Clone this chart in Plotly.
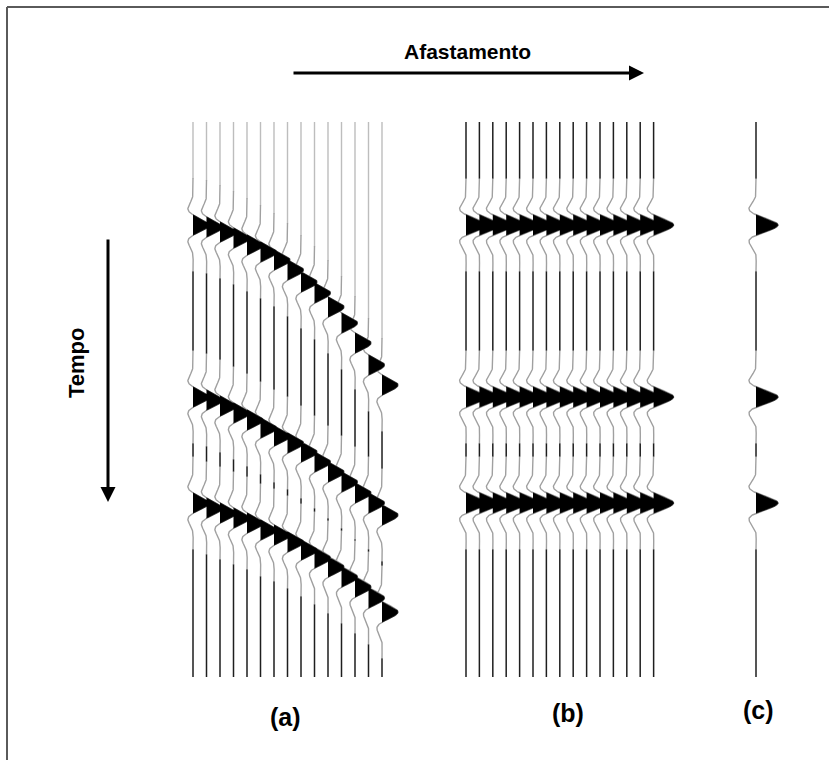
import numpy as np
import plotly.graph_objects as go

# Reflection arrival times (ms) on the 15 traces of the CMP gather (a)
t_refl1 = [206, 210, 220, 232, 246, 260, 276, 296, 320, 342, 370, 402, 442, 486, 526]
t_refl2 = [550, 556, 568, 582, 596, 612, 628, 642, 660, 680, 700, 720, 742, 762, 786]
t_refl3 = [762, 772, 782, 792, 802, 816, 826, 840, 856, 872, 890, 910, 930, 952, 980]
# Zero-offset times after NMO correction (b) and on the stacked trace (c)
t_zero = [206, 550, 762]
panel_labels = ["(a)", "(b)", "(c)"]
axis_labels = ["Afastamento", "Tempo"]

# ---- layout geometry (pixels) ----
W, H = 829, 760
Y_TOP = 122            # pixel row of t = 0
PX_PER_MS = 0.5
T_END = 1110           # record length (ms)
N_TR = 15
X_A0, DX_A = 193.0, 13.5
X_B0, DX_B = 466.0, 13.4
X_C = 756.0
AMP = {"a": 16.0, "b": 20.0, "c": 22.0}

PERIOD = 82.0          # wavelet dominant period (ms)
SIGMA = 34.0           # wavelet envelope width (ms)
HALF_SPAN = 94.0       # visible wavelet half length (ms)

DARK = "#1e1e1e"
GREY = "#a0a0a0"
GREY_LIGHT = "#bdbdbd"

t = np.arange(0.0, T_END + 0.5, 1.0)


def ypix(tms):
    return Y_TOP + np.asarray(tms, dtype=float) * PX_PER_MS


def wavelet(s):
    return np.cos(2 * np.pi * s / PERIOD) * np.exp(-(s / SIGMA) ** 2)


dark_x, dark_y = [], []
grey_x, grey_y = [], []
light_x, light_y = [], []
fill_x, fill_y = [], []


def add_runs(xs, ys, mask, ox, oy):
    """Append the runs of (xs, ys) where mask is True, separated by None."""
    idx = np.flatnonzero(mask)
    if idx.size == 0:
        return
    breaks = np.flatnonzero(np.diff(idx) > 1)
    starts = np.r_[idx[0], idx[breaks + 1]]
    ends = np.r_[idx[breaks], idx[-1]]
    for s0, e0 in zip(starts, ends):
        lo = max(s0 - 1, 0)
        hi = min(e0 + 2, len(xs))
        ox.extend(xs[lo:hi].tolist() + [None])
        oy.extend(ys[lo:hi].tolist() + [None])


def draw_trace(x0, times, amp, light_above_first=False):
    sig = np.zeros_like(t)
    near = np.zeros(t.shape, dtype=bool)
    for tt in times:
        sig += wavelet(t - tt)
        near |= np.abs(t - tt) < HALF_SPAN
    above = np.zeros(t.shape, dtype=bool)
    if light_above_first:
        above = (t < min(times)) & ~near
    xs = x0 + amp * sig
    ys = ypix(t)
    add_runs(xs, ys, ~near & ~above, dark_x, dark_y)
    add_runs(xs, ys, above, light_x, light_y)
    add_runs(xs, ys, near, grey_x, grey_y)
    # filled positive lobe of each reflection
    for tt in times:
        s = np.linspace(-PERIOD / 4, PERIOD / 4, 41)
        tl = tt + s
        xl = x0 + amp * np.interp(tl, t, sig)
        xl = np.maximum(xl, x0)
        px = [x0] + xl.tolist() + [x0, None]
        py = [float(ypix(tl[0]))] + ypix(tl).tolist() + [float(ypix(tl[-1])), None]
        fill_x.extend(px)
        fill_y.extend(py)


# (a) CMP gather with hyperbolic moveout
for i in range(N_TR):
    draw_trace(X_A0 + i * DX_A, [t_refl1[i], t_refl2[i], t_refl3[i]], AMP["a"],
               light_above_first=True)
# (b) NMO-corrected gather
for i in range(N_TR):
    draw_trace(X_B0 + i * DX_B, t_zero, AMP["b"])
# (c) stacked trace
draw_trace(X_C, t_zero, AMP["c"])

fig = go.Figure()
fig.add_trace(go.Scatter(x=light_x, y=light_y, mode="lines",
                         line=dict(color=GREY_LIGHT, width=1.4), hoverinfo="skip"))
fig.add_trace(go.Scatter(x=grey_x, y=grey_y, mode="lines",
                         line=dict(color=GREY, width=1.4), hoverinfo="skip"))
fig.add_trace(go.Scatter(x=dark_x, y=dark_y, mode="lines",
                         line=dict(color=DARK, width=1.5), hoverinfo="skip"))
fig.add_trace(go.Scatter(x=fill_x, y=fill_y, mode="lines", fill="toself",
                         fillcolor="black", line=dict(color="black", width=0.6),
                         hoverinfo="skip"))

FONT = "Liberation Sans, Arial, sans-serif"

annotations = [
    # offset axis
    dict(x=467, y=51, text=f"<b>{axis_labels[0]}</b>", showarrow=False,
         font=dict(family=FONT, size=21, color="black"), xanchor="center", yanchor="middle"),
    dict(x=644, y=73, ax=292, ay=73, xref="x", yref="y", axref="x", ayref="y",
         text="", showarrow=True, arrowhead=2, arrowsize=1, arrowwidth=3, arrowcolor="black"),
    # time axis
    dict(x=76, y=363, text=f"<b>{axis_labels[1]}</b>", showarrow=False, textangle=-90,
         font=dict(family=FONT, size=22, color="black"), xanchor="center", yanchor="middle"),
    dict(x=108, y=502, ax=108, ay=238, xref="x", yref="y", axref="x", ayref="y",
         text="", showarrow=True, arrowhead=2, arrowsize=1, arrowwidth=3, arrowcolor="black"),
]
for lab, xc, yc in zip(panel_labels, [285, 568, 758], [717, 713, 710]):
    annotations.append(dict(x=xc, y=yc, text=f"<b>{lab}</b>", showarrow=False,
                            font=dict(family=FONT, size=25, color="black"),
                            xanchor="center", yanchor="middle"))

fig.update_layout(
    width=W, height=H,
    margin=dict(l=0, r=0, t=0, b=0),
    paper_bgcolor="white", plot_bgcolor="white",
    showlegend=False,
    xaxis=dict(range=[0, W], visible=False, fixedrange=True),
    yaxis=dict(range=[H, 0], visible=False, fixedrange=True),
    annotations=annotations,
    # page frame: only the top and left edges fall inside the picture
    shapes=[
        dict(type="line", xref="paper", yref="y", x0=7 / W, x1=1, y0=7, y1=7,
             line=dict(color="#5a5a5a", width=2)),
        dict(type="line", xref="x", yref="paper", x0=7, x1=7, y0=0, y1=1 - 7 / H,
             line=dict(color="#5a5a5a", width=2)),
    ],
)

fig.write_html("out.html")
